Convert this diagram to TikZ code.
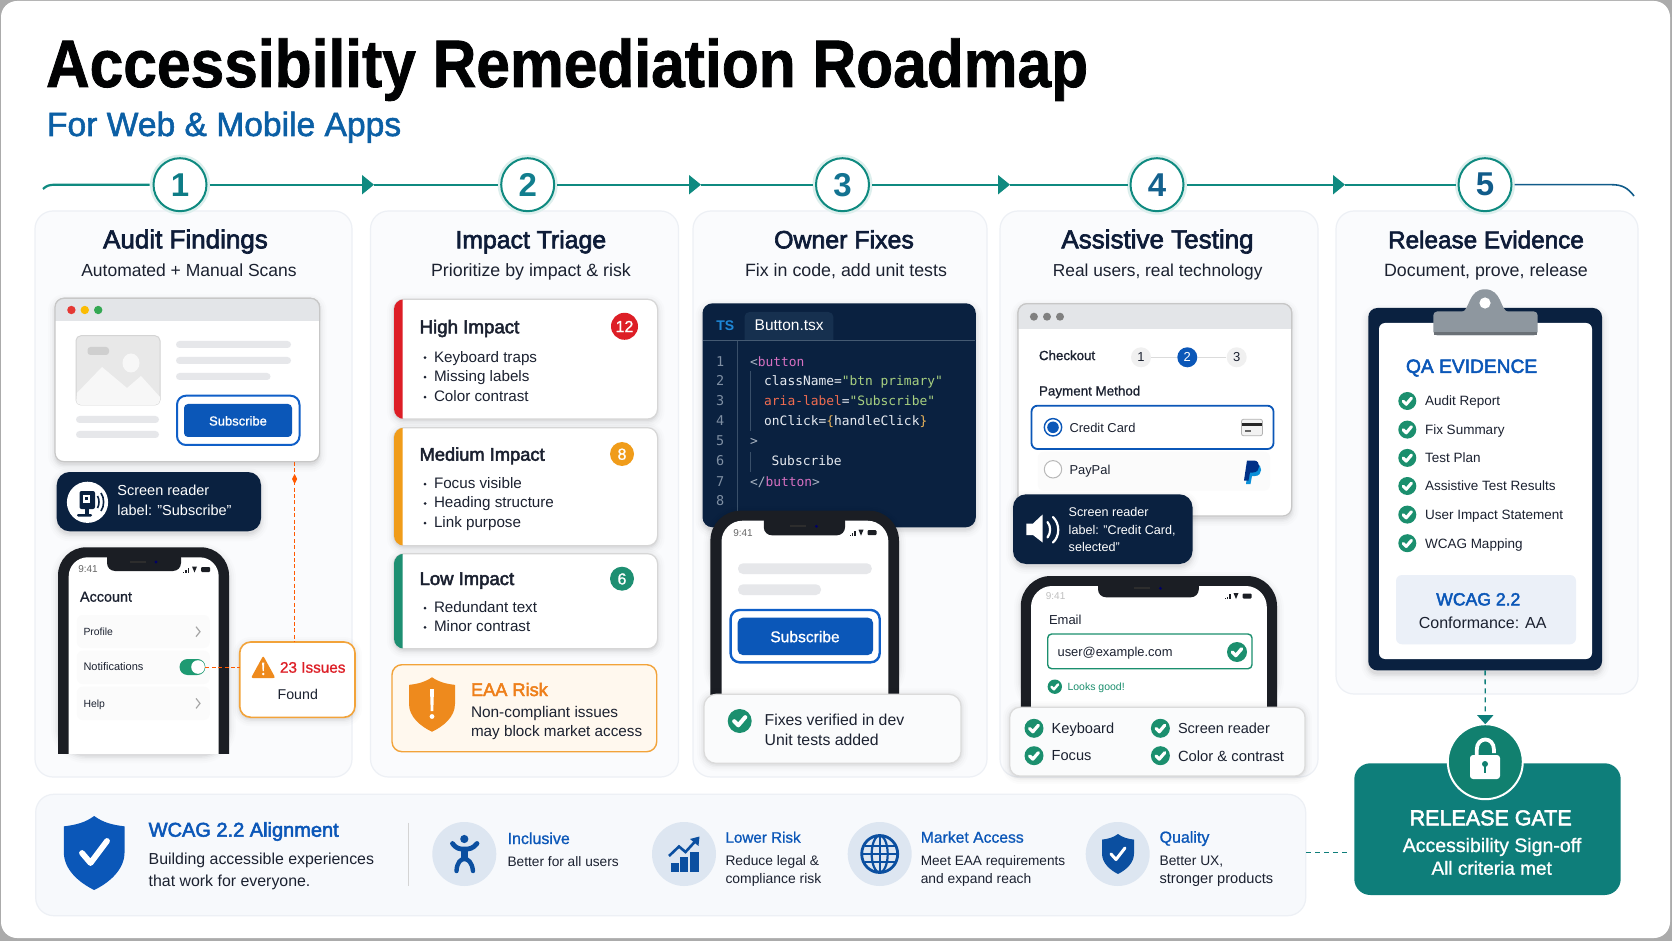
\documentclass[tikz,border=0pt]{standalone}
\usepackage{fontspec}
\usepackage{graphicx}
\setmainfont{Liberation Sans}
\newfontfamily\cod{DejaVu Sans Mono}
\usetikzlibrary{arrows.meta,calc}
\definecolor{navy}{HTML}{0A2140}
\definecolor{ink}{HTML}{1B2130}
\definecolor{head}{HTML}{0E1C38}
\definecolor{blu}{HTML}{0B57B8}
\definecolor{teal}{HTML}{0F8A80}
\definecolor{tealb}{HTML}{0E7E7A}
\definecolor{grn}{HTML}{1B8F6E}
\definecolor{org}{HTML}{EE8A1D}
\definecolor{pan}{HTML}{FAFBFD}
\definecolor{panl}{HTML}{EDF0F5}
\definecolor{grl}{HTML}{E6E7EA}
\definecolor{dkph}{HTML}{1B1E24}
\definecolor{circ}{HTML}{DDE6F1}
\definecolor{dico}{HTML}{0B4FA0}
\definecolor{subt}{HTML}{0B5FA5}
\definecolor{bandc}{HTML}{F7F9FC}
\definecolor{dga}{HTML}{0E7C86}
\definecolor{dgb}{HTML}{127E8E}
\definecolor{dgc}{HTML}{137391}
\definecolor{dgd}{HTML}{14618E}
\definecolor{dge}{HTML}{115C8A}
\definecolor{tbar}{HTML}{E3E5E8}
\definecolor{dred}{HTML}{E53935}
\definecolor{dyel}{HTML}{FBBC04}
\definecolor{dgrn}{HTML}{34A853}
\definecolor{ring}{HTML}{0F5FC8}
\definecolor{togg}{HTML}{1E9A72}
\definecolor{obor}{HTML}{F2A33A}
\definecolor{rd}{HTML}{DD1E26}
\definecolor{ora}{HTML}{F09C1A}
\definecolor{lgr}{HTML}{1E8F72}
\definecolor{eaab}{HTML}{FFF8EE}
\definecolor{eaat}{HTML}{EE7F1A}
\definecolor{tabc}{HTML}{16304F}
\definecolor{tsc}{HTML}{1E88D8}
\definecolor{lnc}{HTML}{7F8FA3}
\definecolor{cw}{HTML}{E6EAF0}
\definecolor{fc}{HTML}{FAFBFC}
\definecolor{ppa}{HTML}{003087}
\definecolor{ppb}{HTML}{0A8FD8}
\definecolor{clipc}{HTML}{8E979F}
\definecolor{wb}{HTML}{EBF0F8}
\definecolor{lk}{HTML}{11806F}
\newcommand{\fsz}[1]{\fontsize{\fpeval{#1/2}}{\fpeval{#1*0.6}}\selectfont}
\newcommand{\med}{\addfontfeature{FakeBold=2.6}}
\newcommand{\lite}{\addfontfeature{FakeBold=1}}
\newcounter{nn}
% [opts]{x}{y}{anchor}{size}{colour}{text}
\newcommand{\lab}[7][]{\stepcounter{nn}\node[inner sep=0,outer sep=0,anchor=#4,text=#6,font=\fsz{#5},#1] (t\thenn) at (#2,#3) {#7};}
% label whose vertical middle of capitals is at y
\newcommand{\labw}[5]{\lab{#1}{#2+0.36*#3}{base west}{#3}{#4}{#5}}
\newcommand{\labc}[5]{\lab{#1}{#2+0.36*#3}{base}{#3}{#4}{#5}}
% [opts]{name}{x1}{y1}{x2}{y2}{radius}
\newcommand{\rb}[7][]{\node[rectangle,inner sep=0,outer sep=0,rounded corners=\fpeval{#7*0.5}pt,minimum width=\fpeval{(#5-#3)*0.5}pt,minimum height=\fpeval{(#6-#4)*0.5}pt,#1] (#2) at ({(#3+#5)/2},{(#4+#6)/2}) {};}
% soft shadow {x1}{y1}{x2}{y2}{r}{dy}
\newcommand{\shd}[6]{\foreach \s/\o in {7/.012,5/.016,3/.022,1.5/.03,0/.04}{\fill[black,opacity=\o,rounded corners=\fpeval{(#5+\s)*0.5}pt] ({#1-\s},{#2-\s+#6}) rectangle ({#3+\s},{#4+\s+#6});}}
% filled rounded bar
\newcommand{\rbar}[6][]{\fill[#1,rounded corners=\fpeval{#6*0.5}pt] (#2,#3) rectangle (#4,#5);}
% check disc {x}{y}{r}{colour}
\newcommand{\chk}[4]{\begin{scope}[shift={(#1,#2)},scale=#3]\fill[#4] (0,0) circle (1);\draw[white,line width=\fpeval{#3*0.17}pt,line cap=round,line join=round] (-.46,.02) -- (-.12,.36) -- (.46,-.32);\end{scope}}
% shield {cx}{cy}{w}{h}{colour}
\newcommand{\shld}[5]{\begin{scope}[shift={(#1,#2)},xscale=#3/2,yscale=#4/2]\fill[#5] (0,-1) .. controls (.3,-.82) and (.6,-.76) .. (1,-.72) -- (1,-.02) .. controls (1,.45) and (.5,.8) .. (0,1) .. controls (-.5,.8) and (-1,.45) .. (-1,-.02) -- (-1,-.72) .. controls (-.6,-.76) and (-.3,-.82) .. (0,-1) -- cycle;\end{scope}}
% phone {x1}{y1}{x2}{y2}{sx1}{sy1}{sx2}{R}
\newcommand{\phn}[8]{\shd{#1}{#2}{#3}{#4}{#8}{3}
\begin{scope}\clip ({#1-12},{#2-12}) rectangle ({#3+12},#4);
\fill[dkph,rounded corners=\fpeval{#8*0.5}pt] (#1,#2) rectangle (#3,{#4+60});
\fill[white,rounded corners=\fpeval{(#8-9)*0.5}pt] (#5,#6) rectangle (#7,{#4+60});
\end{scope}}
% notch {x1}{x2}{ybottom}{ytop}
\newcommand{\notch}[4]{\fill[dkph,rounded corners=4pt] (#1,{#4-8}) rectangle (#2,#3);
\fill[black!65!gray] ({(#1+#2)/2-14},{#3-10}) rectangle ({(#1+#2)/2+2},{#3-8});
\fill[blue!40!black] ({(#1+#2)/2+12},{#3-9}) circle (1.6);}
% status icons {x}{y}
\newcommand{\stat}[2]{\fill[dkph] (#1,{#2+2}) rectangle ({#1+1.4},{#2+3});\fill[dkph] ({#1+2.4},{#2+.5}) rectangle ({#1+3.8},{#2+3});\fill[dkph] ({#1+4.8},{#2-2}) rectangle ({#1+6.2},{#2+3});
\fill[dkph] ({#1+9},{#2-3}) -- ({#1+14},{#2-3}) -- ({#1+11.5},{#2+3}) -- cycle;
\fill[dkph,rounded corners=.5pt] ({#1+18},{#2-2.5}) rectangle ({#1+27},{#2+2.5});}
\newcommand{\chev}[2]{\draw[gray!70,line width=.6pt] ({#1-2},{#2-5}) -- ({#1+2},#2) -- ({#1-2},{#2+5});}
\begin{document}
\begin{tikzpicture}[x=0.5pt,y=-0.5pt,line cap=butt,
 panelbox/.style={fill=pan,draw=panl,line width=.6pt},
 cardbox/.style={fill=white,draw=black!16,line width=.6pt},
 stepc/.style={circle,fill=white,draw=teal,line width=1pt,minimum size=26.5pt,inner sep=0,outer sep=0,font=\fsz{33}\bfseries},
 tl/.style={line width=1.1pt,draw=teal},
 arrowt/.style={-{Triangle[length=6pt,width=9.5pt]}},
 ord/.style={draw=orange!70!red,line width=.5pt,dash pattern=on 2pt off 1.2pt},
 tld/.style={draw=tealb,line width=.7pt,dash pattern=on 2.5pt off 2pt},
 navybox/.style={fill=navy}]
\useasboundingbox (0,0) rectangle (1672,941);
\fill[black!33] (0,0) rectangle (1672,941);
\fill[white,rounded corners=8pt] (1,1) rectangle (1670,938);
% title
\lab{46}{87}{base west}{60.5}{black!95!navy}{\bfseries\addfontfeature{FakeBold=1.2}\scalebox{1}[1.11]{Accessibility Remediation Roadmap}}
\lab{47}{136}{base west}{33.6}{subt}{\addfontfeature{FakeBold=1.6}For Web \& Mobile Apps}
% panels
\rb[panelbox]{p1}{35}{211}{352}{777}{18}
\rb[panelbox]{p2}{370.5}{211}{678.5}{777}{18}
\rb[panelbox]{p3}{693}{211}{987}{777}{18}
\rb[panelbox]{p4}{1000}{211}{1318}{777}{18}
\rb[panelbox]{p5}{1336}{211}{1638}{694}{18}
\rb[fill=bandc,draw=panl,line width=.6pt]{band}{35.7}{794.3}{1305.7}{915.7}{18}
% timeline
\foreach \c in {180,527.7,842.5,1157,1485}{\fill[teal!14] (\c,184.7) circle (30);}
\node[stepc,text=dga] (s1) at (180,184.7) {1};
\node[stepc,text=dgb] (s2) at (527.7,184.7) {2};
\node[stepc,text=dgc] (s3) at (842.5,184.7) {3};
\node[stepc,text=dgd] (s4) at (1157,184.7) {4};
\node[stepc,text=dge] (s5) at (1485,184.7) {5};
\coordinate (c0) at (43,189);
\coordinate (a1) at (374,184.7);\coordinate (a2) at (701,184.7);\coordinate (a3) at (1010,184.7);\coordinate (a4) at (1345,184.7);
\coordinate (c9) at (1634,196);
\draw[tl,shorten >=2pt] (c0) .. controls (46,186) and (49,184.7) .. (55,184.7) -- (s1.west);
\draw[tl,arrowt,shorten <=1.5pt] (s1.east) -- (a1);\draw[tl,shorten >=1.5pt] (a1) -- (s2.west);
\draw[tl,arrowt,shorten <=1.5pt] (s2.east) -- (a2);\draw[tl,shorten >=1.5pt] (a2) -- (s3.west);
\draw[tl,arrowt,shorten <=1.5pt] (s3.east) -- (a3);\draw[tl,shorten >=1.5pt] (a3) -- (s4.west);
\draw[tl,arrowt,shorten <=1.5pt] (s4.east) -- (a4);\draw[tl,shorten >=1.5pt] (a4) -- (s5.west);
\draw[line width=.8pt,draw=dge,shorten <=1.5pt] (s5.east) -- (1612,184.7) .. controls (1622,184.7) and (1628,188) .. (c9);
% panel headers {title x}{sub x}{title size}{sub size}{title}{sub}
\newcommand{\phd}[6]{\lab{#1}{248.3}{base}{#3}{head}{\med #5}\lab{#2}{277}{base}{#4}{ink}{#6}}
\phd{185.5}{189}{26}{17.5}{Audit Findings}{Automated + Manual Scans}
\phd{530.8}{531}{24.8}{17.8}{Impact Triage}{Prioritize by impact \& risk}
\phd{844}{846}{24.9}{17.8}{Owner Fixes}{Fix in code, add unit tests}
\phd{1157.5}{1157.7}{26}{17.3}{Assistive Testing}{Real users, real technology}
\phd{1486}{1486}{24.3}{17.8}{Release Evidence}{Document, prove, release}
% ---------- panel 1 browser
\shd{55}{298.3}{319.6}{461.7}{9}{3}
\rb[fill=white,draw=black!22,line width=.6pt]{brow1}{55}{298.3}{319.6}{461.7}{9}
\begin{scope}\clip (55,298) rectangle (320,321);
\fill[tbar,rounded corners=4.5pt,draw=black!22,line width=.6pt] (55,298.3) rectangle (319.6,340);\end{scope}
\fill[dred] (71.4,310) circle (4.2);
\fill[dyel] (84.8,310) circle (4.2);
\fill[dgrn] (98.2,310) circle (4.2);
\fill[black!9,rounded corners=2.5pt,draw=black!17,line width=.5pt] (76,335.7) rectangle (160,405);
\rbar[black!19]{87.5}{347}{109}{355}{3}
\begin{scope}\clip[rounded corners=2.5pt] (76,335.7) rectangle (160,405);
\fill[black!3] (131,363) ellipse (8.5 and 9.5);
\fill[black!3] (77,393) -- (102,367) -- (127,388) -- (141,376) -- (160,397) -- (160,405) -- (76,405) -- cycle;\end{scope}
\rbar[grl]{176}{341}{291}{348}{3.5}
\rbar[grl]{176}{357}{291}{364}{3.5}
\rbar[grl]{176}{373}{270.5}{380}{3.5}
\rbar[grl]{76}{416}{159}{423}{3.5}
\rbar[grl]{76}{431}{159}{438}{3.5}
\rb[fill=white,draw=ring,line width=1pt]{ring1}{177}{395.7}{299.5}{445}{9}
\rb[fill=blu]{btn1}{184}{404}{292}{437}{4}
\lab{238}{425.5}{base}{13}{white}{\lite Subscribe}
% screen reader bubble
\shd{56.7}{472}{261}{531.3}{13}{3}
\rb[navybox]{sr1}{56.7}{472}{261}{531.3}{13}
\fill[white] (87.5,502.3) circle (20.6);
\fill[navy,rounded corners=1pt] (79.5,491) rectangle (95,509);
\fill[navy] (85,509) rectangle (89,514);\fill[navy,rounded corners=.6pt] (77,514) rectangle (92,516.5);
\fill[white] (83,495) rectangle (90,503);\fill[navy] (85,497) rectangle (88,500);
\draw[navy,line width=.8pt] (97.5,496) .. controls (99.5,499) and (99.5,505) .. (97.5,508);
\draw[navy,line width=.8pt] (101,493) .. controls (104.5,498) and (104.5,506) .. (101,511);
\lab{117.4}{495.7}{base west}{14.5}{white}{Screen reader}
\lab{117.4}{515.7}{base west}{14.5}{white}{label: "Subscribe"}
% dashed connectors panel 1
\coordinate (d1) at (294.6,462);
% phone 1
\phn{58}{547.3}{229}{753.3}{68.7}{557.3}{218.7}{28}
\notch{107}{181}{571}{557.3}
\stat{183}{569.5}
\labc{88}{569.3}{10}{black!60}{9:41}
\lab{80}{601.7}{base west}{14.4}{ink}{\lite Account}
\rb[fill=black!1.5]{row1}{76.8}{615}{209.8}{648}{6}
\rb[fill=black!1.5]{row2}{76.8}{650.7}{209.8}{684}{6}
\rb[fill=black!1.5]{row3}{76.8}{686.7}{209.8}{720}{6}
\labw{83.5}{631.7}{10.4}{ink}{Profile}
\labw{83.5}{667}{11}{ink}{Notifications}
\labw{83.5}{703.5}{10.4}{ink}{Help}
\chev{198}{631.7}\chev{198}{703.4}
\rb[fill=togg]{tog}{179.5}{659}{205.4}{675}{8}
\fill[white] (198,667) circle (6.8);
% 23 issues
\shd{239.7}{642}{355}{717.3}{11}{2}
\rb[fill=white,draw=obor,line width=.8pt]{issues}{239.7}{642}{355}{717.3}{11}
\draw[ord] (d1) -- (d1 |- issues.north);
\fill[orange!70!red] (294.6,474) -- (297.2,479) -- (294.6,484) -- (292,479) -- cycle;
\draw[ord] (tog.east) -- (tog.east -| issues.west);
\fill[org,rounded corners=1pt] (263.2,655.7) -- (275.4,678) -- (251,678) -- cycle;
\fill[white] (262.1,662.5) -- (264.3,662.5) -- (263.8,671) -- (262.6,671) -- cycle;\fill[white] (263.2,674) circle (1.3);
\lab{280}{672.7}{base west}{15.3}{rd}{\lite 23 Issues}
\lab{297.8}{699.3}{base}{14.2}{ink}{Found}
% ---------- panel 2 cards
\newcommand{\impact}[9]{\shd{394}{#2}{657.6}{#3}{10}{2}
\rb[cardbox]{#1}{394}{#2}{657.6}{#3}{10}
\begin{scope}\clip (393,{#2-1}) rectangle (402.5,{#3+1});\fill[#4,rounded corners=5pt] (394,#2) rectangle (420,#3);\end{scope}
\node[circle,fill=#4,inner sep=0,outer sep=0,minimum size=\fpeval{#9*1}pt] (#1b) at (#7,#8) {};}
\impact{high}{299.3}{419}{rd}{333.3}{High Impact}{624.5}{326.3}{13.5}
\lab{419.6}{333.3}{base west}{18.7}{ink}{\med High Impact}
\labc{624.5}{326.3}{16}{white}{\lite 12}
\impact{medi}{427.7}{545.7}{ora}{460.7}{Medium Impact}{622}{454}{12}
\lab{419.6}{460.7}{base west}{18.3}{ink}{\med Medium Impact}
\labc{622}{454}{16}{white}{\lite 8}
\impact{lowi}{553.7}{648.7}{lgr}{585}{Low Impact}{622}{578.7}{12}
\lab{419.6}{585}{base west}{18.5}{ink}{\med Low Impact}
\labc{622}{578.7}{16}{white}{\lite 6}
\newcommand{\bul}[2]{\fill[ink] (425,{#1-4.5}) circle (1.5);\lab{434}{#1}{base west}{15.2}{ink}{#2}}
\bul{362.2}{Keyboard traps}\bul{381.7}{Missing labels}\bul{401.7}{Color contrast}
\bul{488.6}{Focus visible}\bul{508}{Heading structure}\bul{527.7}{Link purpose}
\bul{612.6}{Redundant text}\bul{631.9}{Minor contrast}
\rb[fill=eaab,draw=obor,line width=.7pt]{eaa}{392}{664.7}{656.7}{751.7}{10}
\shld{432}{704.5}{46}{54.5}{org}
\fill[white] (430,689) -- (434,689) -- (433.3,711) -- (430.7,711) -- cycle;\fill[white] (432,716.5) circle (2.4);
\lab{471}{696}{base west}{18.2}{eaat}{\med EAA Risk}
\lab{471}{717.3}{base west}{15.4}{ink}{Non-compliant issues}
\lab{471}{736.3}{base west}{15.25}{ink}{may block market access}
% ---------- panel 3 code
\shd{702.5}{303.3}{975.8}{527.3}{10}{3}
\rb[navybox]{code}{702.5}{303.3}{975.8}{527.3}{10}
\fill[tabc,rounded corners=2.5pt] (744.5,312) rectangle (833.4,345);
\fill[navy] (703,341) rectangle (975,346);
\draw[tabc!80!white,line width=.5pt] (703,341) -- (975,341);
\draw[tabc!85!white,line width=.5pt] (737.3,341) -- (737.3,527);
\draw[tabc!85!white,line width=.5pt] (750.4,371) -- (750.4,431);
\draw[tabc!85!white,line width=.5pt] (750.4,452) -- (750.4,472);
\labw{716.4}{325}{14}{tsc}{\bfseries TS}
\lab{754.7}{330.5}{base west}{15.5}{white}{Button.tsx}
\foreach \n/\yy in {1/361.7,2/381,3/400.7,4/420.7,5/441.3,6/461.3,7/481.7,8/501.3}{\lab{720.3}{\yy+4.6}{base}{13.5}{lnc}{\cod \n}}
\newcommand{\cl}[3]{\lab{#1}{#2+4.6}{base west}{12.9}{cw}{\cod #3}}
\definecolor{cg}{HTML}{A9B4C2}\definecolor{cp}{HTML}{D670C0}\definecolor{cs}{HTML}{A8D080}\definecolor{cr}{HTML}{EF6C50}\definecolor{co}{HTML}{E9B35A}
\cl{750}{361.7}{\textcolor{cg}{<}\textcolor{cp}{button}}
\cl{764.2}{381}{className=\textcolor{cs}{"btn primary"}}
\cl{764.2}{400.7}{\textcolor{cr}{aria-label}=\textcolor{cs}{"Subscribe"}}
\cl{764.2}{420.7}{onClick=\textcolor{co}{\{}handleClick\textcolor{co}{\}}}
\cl{750}{441.3}{\textcolor{cg}{>}}
\cl{771.7}{461.3}{Subscribe}
\cl{750}{481.7}{\textcolor{cg}{</}\textcolor{cp}{button}\textcolor{cg}{>}}
% phone 3
\phn{710.4}{510.7}{899}{694.5}{721.5}{520.7}{888.4}{30}
\notch{763.8}{845}{535.3}{520.7}
\stat{849.5}{532.7}
\labc{743}{532.7}{10}{black!60}{9:41}
\rbar[grl]{738}{563.3}{871.8}{574}{5}
\rbar[grl]{738}{584.3}{821}{595}{5}
\rb[fill=white,draw=ring,line width=1.2pt]{ring3}{730.6}{610}{879.7}{662.3}{9}
\rb[fill=blu]{btn3}{737.7}{617.7}{873}{655}{5}
\lab{805}{642.2}{base}{15.6}{white}{\lite Subscribe}
\shd{704}{694.3}{961}{763.3}{12}{1}
\rb[fill=fc,draw=black!14,line width=.6pt]{fixes}{704}{694.3}{961}{763.3}{12}
\chk{739.7}{721}{12}{grn}
\lab{764.6}{725}{base west}{15.8}{ink}{Fixes verified in dev}
\lab{764.6}{745.3}{base west}{15.8}{ink}{Unit tests added}
% ---------- panel 4
\shd{1018}{303.7}{1291.7}{516}{9}{3}
\rb[fill=white,draw=black!22,line width=.6pt]{brow4}{1018}{303.7}{1291.7}{516}{9}
\begin{scope}\clip (1017,303) rectangle (1292,328.3);
\fill[tbar,rounded corners=4.5pt,draw=black!22,line width=.6pt] (1018,303.7) rectangle (1291.7,345);\end{scope}
\foreach \c in {1033.9,1047,1060}{\fill[black!50] (\c,316.7) circle (4);}
\labw{1039}{355.3}{13.3}{ink}{\lite Checkout}
\node[circle,fill=black!6,inner sep=0,minimum size=10pt,text=ink,font=\fsz{13}] (c1) at (1141,357.3) {1};
\node[circle,fill=blu,inner sep=0,minimum size=10pt,text=white,font=\fsz{13}] (c2) at (1187.3,357.3) {2};
\node[circle,fill=black!6,inner sep=0,minimum size=10pt,text=ink,font=\fsz{13}] (c3) at (1236.7,357.3) {3};
\draw[black!14,line width=.5pt] (c1) -- (c2);\draw[black!14,line width=.5pt] (c2) -- (c3);
\labw{1039}{390.7}{13.4}{ink}{\lite Payment Method}
\rb[fill=white,draw=blu,line width=.9pt]{cc}{1031.5}{405.7}{1273.5}{449}{6}
\draw[blu,line width=.7pt,fill=white] (1053,427.3) circle (8.7);\fill[blu] (1053,427.3) circle (5.8);
\labw{1069.5}{428.3}{12.9}{ink}{Credit Card}
\fill[black!5,draw=black!30,line width=.4pt,rounded corners=1pt] (1241.5,419.3) rectangle (1262.4,435.7);
\fill[black!85] (1241.5,423) rectangle (1262.4,426.5);\fill[black!60] (1245,430) rectangle (1251,431.7);
\rb[fill=black!1.5]{ppl}{1037.8}{451.7}{1270}{490.7}{6}
\draw[black!28,line width=.5pt,fill=white] (1053,469.3) circle (8.7);
\labw{1069.5}{469.8}{12.9}{ink}{PayPal}
\fill[ppb] (1249,464) -- (1256,464) .. controls (1263,464) and (1263,476) .. (1255,476) -- (1252,476) -- (1250.5,484) -- (1246,484) -- cycle;
\fill[ppa] (1247,460.5) -- (1254,460.5) .. controls (1261,460.5) and (1261,472.5) .. (1253,472.5) -- (1250,472.5) -- (1248.5,480.5) -- (1244,480.5) -- cycle;
% speaker bubble
\shd{1013}{494.3}{1192.5}{564}{13}{3}
\rb[navybox]{sr4}{1013}{494.3}{1192.5}{564}{13}
\fill[white] (1026.4,523.5) -- (1033,523.5) -- (1042.6,514.5) -- (1042.6,542.5) -- (1033,535) -- (1026.4,535) -- cycle;
\draw[white,line width=1.1pt,line cap=round] (1047.5,522) .. controls (1051,526) and (1051,533) .. (1047.5,537.5);
\draw[white,line width=1.1pt,line cap=round] (1053,517) .. controls (1060,524) and (1060,536) .. (1053,542.5);
\labw{1068.7}{512.3}{12.6}{white}{Screen reader}
\labw{1068.7}{529.7}{12.6}{white}{label: "Credit Card,}
\labw{1068.7}{546.7}{12.6}{white}{selected"}
% phone 4
\phn{1020.8}{576}{1277}{707}{1031}{586}{1266.8}{30}
\notch{1098}{1198.8}{597.3}{586}
\stat{1224.5}{596}
\labc{1055.6}{596.3}{10}{black!25}{9:41}
\labw{1049}{619.8}{13}{ink}{Email}
\rb[fill=white,draw=grn,line width=.7pt]{inp}{1047.7}{634}{1252}{668.7}{4}
\labw{1057.6}{652}{12.9}{ink}{user@example.com}
\chk{1237}{652}{10}{grn}
\chk{1054.8}{686.7}{7.2}{grn}
\labw{1067.5}{686.7}{10.5}{grn}{Looks good!}
\shd{1009.8}{707.3}{1305}{776}{10}{1}
\rb[fill=fc,draw=black!14,line width=.6pt]{ctests}{1009.8}{707.3}{1305}{776}{10}
\chk{1034}{728.3}{9.5}{grn}\chk{1034}{755.7}{9.5}{grn}\chk{1160.4}{728.3}{9.5}{grn}\chk{1160.4}{755.7}{9.5}{grn}
\labw{1051.7}{728.3}{14.6}{ink}{Keyboard}
\labw{1051.7}{755.7}{14.6}{ink}{Focus}
\labw{1178}{728.3}{14.5}{ink}{Screen reader}
\labw{1178}{755.7}{14.8}{ink}{Color \& contrast}
% ---------- panel 5 clipboard
\shd{1368.3}{308}{1602}{670.4}{9}{4}
\rb[navybox]{clip}{1368.3}{308}{1602}{670.4}{9}
\rb[fill=white]{paper}{1379}{323}{1592}{659}{6}
\fill[clipc] (1462,312) .. controls (1470,310) and (1468,289.3) .. (1485,289.3) .. controls (1502,289.3) and (1500,310) .. (1508,312) -- cycle;
\fill[clipc,rounded corners=2pt] (1433.3,311.4) rectangle (1537.7,335.4);
\fill[clipc!75!black] (1434,332.5) rectangle (1537,335.4);
\fill[white] (1485,303) circle (5.6);
\lab{1406}{372.9}{base west}{19.2}{blu}{\med QA EVIDENCE}
\foreach \yy/\tx in {401/Audit Report,429.6/Fix Summary,457.9/Test Plan,486/Assistive Test Results,514.6/User Impact Statement,543.2/WCAG Mapping}{\chk{1407.3}{\yy}{9}{grn}\labw{1425}{\yy}{13.5}{ink}{\tx}}
\rb[fill=wb]{wbox}{1396}{575}{1576}{644.3}{6}
\lab{1478.3}{605.4}{base}{17.6}{blu}{\med WCAG 2.2}
\lab{1482.7}{628}{base}{16}{ink}{Conformance: AA}
% ---------- gate
\rb[fill=tealb]{gate}{1354.3}{763.3}{1620.7}{895}{16}
\node[circle,fill=lk,draw=white,line width=1pt,minimum size=37.5pt,inner sep=0,outer sep=0] (lock) at (1485.3,761.7) {};
\draw[white,line width=1.9pt] (1476.7,756) -- (1476.7,750) .. controls (1476.7,736) and (1494,736) .. (1494,750) -- (1494,753);
\fill[white,rounded corners=1.5pt] (1470,755) rectangle (1500,779);
\fill[lk] (1485,764) circle (3);\fill[lk] (1483.8,765) rectangle (1486.2,773);
\draw[tld,-{Triangle[length=4.5pt,width=8pt]}] (clip.south) -- (lock.north);
\lab{1490.7}{825.3}{base}{21.5}{white}{\med RELEASE GATE}
\lab{1492}{852}{base}{19.5}{white}{\lite Accessibility Sign-off}
\lab{1491.7}{874.7}{base}{19}{white}{\lite All criteria met}
\coordinate (g1) at (1306,852.7);
\draw[tld,shorten >=2pt] (g1) -- (g1 -| gate.west);
% ---------- band
\shld{94.2}{853}{60.7}{74}{blu}
\draw[white,line width=2.9pt,line cap=round,line join=round] (82,853) -- (90.5,863) -- (107,841);
\lab{148.7}{836.7}{base west}{20}{blu}{\med WCAG 2.2 Alignment}
\lab{148.7}{864}{base west}{15.9}{ink}{Building accessible experiences}
\lab{148.7}{886}{base west}{15.9}{ink}{that work for everyone.}
\coordinate (sp1) at (408.5,822.7);\coordinate (sp2) at (408.5,886);
\draw[black!17,line width=.5pt] (sp1) -- (sp2);
\foreach \c in {464.3,684,879.7,1117.7}{\fill[circ] (\c,854) circle (32);}
\fill[dico] (464.3,839) circle (4.1);
\draw[dico,line width=2.4pt,line cap=round] (452.5,843.5) .. controls (457,849) and (459,849) .. (464.3,849) .. controls (470,849) and (472,849) .. (477,843.5);
\draw[dico,line width=3.2pt] (464.3,848) -- (464.3,860);
\draw[dico,line width=2.2pt,line cap=round,fill=none] (456.5,871) .. controls (457,862) and (461,859) .. (464.3,859) .. controls (468,859) and (472,862) .. (473,871);
\lab{507.6}{844}{base west}{16}{blu}{\lite Inclusive}
\lab{507.6}{866.7}{base west}{13.7}{ink}{Better for all users}
\fill[dico] (671,863) rectangle (678.5,871.5);\fill[dico] (680,857) rectangle (687.5,871.5);\fill[dico] (690,851.5) rectangle (699,871.5);
\draw[dico,line width=1.3pt] (669,856) -- (679,846.5) -- (685.5,852) -- (696,840.5);
\fill[dico] (699.5,836.5) -- (698.5,846) -- (690,839) -- cycle;
\lab{725.5}{842.7}{base west}{15.2}{blu}{\lite Lower Risk}
\lab{725.5}{865}{base west}{13.8}{ink}{Reduce legal \&}
\lab{725.5}{883.3}{base west}{13.9}{ink}{compliance risk}
\draw[dico,line width=1.4pt] (879.7,854) ellipse (18 and 18.5);
\draw[dico,line width=1.1pt] (879.7,854) ellipse (8 and 18.5);
\draw[dico,line width=1.1pt] (879.7,835.5) -- (879.7,872.5);
\draw[dico,line width=1.1pt] (861.7,854) -- (897.7,854);
\draw[dico,line width=1.1pt] (864.5,846) -- (895,846);\draw[dico,line width=1.1pt] (864.5,862) -- (895,862);
\lab{920.8}{842.7}{base west}{15.7}{blu}{\lite Market Access}
\lab{920.8}{865}{base west}{13.6}{ink}{Meet EAA requirements}
\lab{920.8}{883.3}{base west}{13.8}{ink}{and expand reach}
\shld{1118}{854}{32}{40}{dico}
\draw[white,line width=1.5pt,line cap=round,line join=round] (1111,854) -- (1116,859.5) -- (1125,848);
\lab{1159.6}{842.7}{base west}{16}{blu}{\lite Quality}
\lab{1159.6}{865}{base west}{13.8}{ink}{Better UX,}
\lab{1159.6}{883.3}{base west}{14.6}{ink}{stronger products}
\end{tikzpicture}
\end{document}
